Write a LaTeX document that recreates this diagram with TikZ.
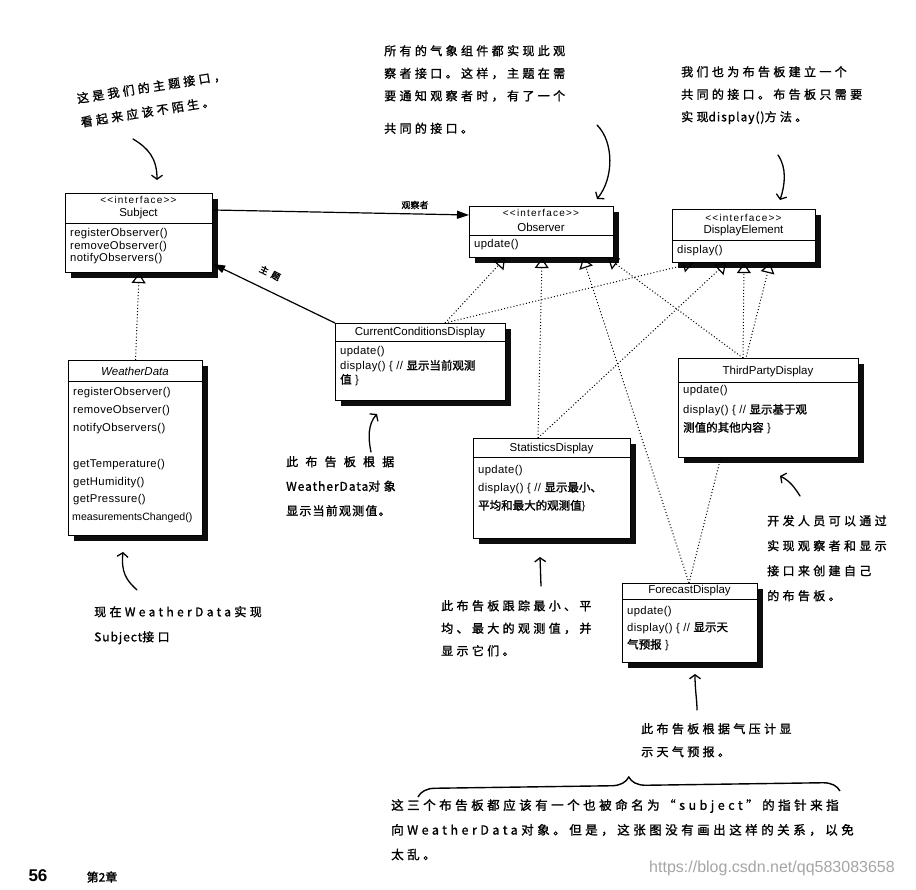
\documentclass[tikz,border=0pt]{standalone}
\usepackage{fontspec}
\setmainfont{Liberation Sans}
\newfontfamily\cjk{Noto Sans CJK SC}
\newfontfamily\cjkb{Noto Sans CJK SC}[FakeBold=1.5]
\newfontfamily\hand{Noto Sans CJK SC}[LetterSpace=28,FakeBold=1.3]
\newfontfamily\handlat{Noto Sans CJK SC}[LetterSpace=8,FakeBold=1.3]
\newfontfamily\mfont{Liberation Sans}[LetterSpace=3]
\newfontfamily\sfont{Liberation Sans}[LetterSpace=12]
\usetikzlibrary{arrows.meta,shadows,backgrounds,calc,decorations.pathreplacing}
\begin{document}
\begin{tikzpicture}[x=1pt,y=-1pt,
  box/.style={draw, line width=1.1pt, fill=white, inner sep=0pt, anchor=north west,
    drop shadow={shadow xshift=5pt, shadow yshift=-5.5pt, fill=black, opacity=0.95}},
  mt/.style={font=\mfont\fontsize{11.3}{12}\selectfont, inner sep=0pt, anchor=west},
  st/.style={font=\sfont\fontsize{10}{11}\selectfont, inner sep=0pt},
  nm/.style={font=\fontsize{11.5}{12}\selectfont, inner sep=0pt},
  sepline/.style={line width=0.9pt},
  real/.style={line width=1pt, dash pattern=on 1pt off 2.2pt,
    -{Triangle[open, length=10pt, width=14pt, line width=1.2pt]}},
  assoc/.style={line width=1.2pt, -{Triangle[length=12pt, width=8pt]}},
  note/.style={font=\hand\fontsize{12}{#1}\selectfont, align=left, anchor=north west, inner sep=0pt},
  handarrow/.style={line width=1.3pt, line cap=round, -{Straight Barb[length=4pt, width=11pt]}},
  lbl/.style={font=\cjkb\fontsize{9}{10}\selectfont, inner sep=0pt}
]
\useasboundingbox (0,0) rectangle (916,890);

% ---------- boxes ----------
\node[box, minimum width=147pt, minimum height=79pt] (subj) at (65,193) {};
\node[box, minimum width=144pt, minimum height=51pt] (obs) at (469,206) {};
\node[box, minimum width=143pt, minimum height=53pt] (de) at (672,209) {};
\node[box, minimum width=170pt, minimum height=77pt] (ccd) at (335,323) {};
\node[box, minimum width=134pt, minimum height=175pt] (wd) at (68,360) {};
\node[box, minimum width=180pt, minimum height=99pt] (tp) at (678,358) {};
\node[box, minimum width=157pt, minimum height=100pt] (sd) at (473,438) {};
\node[box, minimum width=135pt, minimum height=79pt] (fd) at (622,583) {};

% separators
\draw[sepline] ($(subj.north west)+(0,30)$) -- ($(subj.north east)+(0,30)$);
\draw[sepline] ($(obs.north west)+(0,29)$) -- ($(obs.north east)+(0,29)$);
\draw[sepline] ($(de.north west)+(0,31)$) -- ($(de.north east)+(0,31)$);
\draw[sepline] ($(ccd.north west)+(0,18)$) -- ($(ccd.north east)+(0,18)$);
\draw[sepline] ($(wd.north west)+(0,21)$) -- ($(wd.north east)+(0,21)$);
\draw[sepline] ($(tp.north west)+(0,24)$) -- ($(tp.north east)+(0,24)$);
\draw[sepline] ($(sd.north west)+(0,19)$) -- ($(sd.north east)+(0,19)$);
\draw[sepline] ($(fd.north west)+(0,16)$) -- ($(fd.north east)+(0,16)$);

% ---------- box texts ----------
\newcommand\zh[1]{{\cjkb\fontsize{11.5}{12}\selectfont #1}}
\node[st] (subjst) at (138.5,200) {<<interface>>};
\node[nm] (subjnm) at (138.5,214) {Subject};
\node[mt] (subjm1) at (70,234) {registerObserver()};
\node[mt] (subjm2) at (70,246.5) {removeObserver()};
\node[mt] (subjm3) at (70,259) {notifyObservers()};

\node[st] (obsst) at (541,213) {<<interface>>};
\node[nm] (obsnm) at (541,227) {Observer};
\node[mt] (obsm1) at (474,245) {update()};

\node[st] (dest) at (743.5,218) {<<interface>>};
\node[nm] (denm) at (743.5,231) {DisplayElement};
\node[mt] (dem1) at (677,251) {display()};

\node[nm] (ccdnm) at (420,333) {CurrentConditionsDisplay};
\node[mt] (ccdm1) at (340,352) {update()};
\node[mt] (ccdm2) at (340,366) {display() \{ // \zh{显示当前观测}};
\node[mt] (ccdm3) at (340,380) {\zh{值} \}};

\node[nm] (wdnm) at (135,371) {\itshape WeatherData};
\node[mt] (wdm1) at (73,393) {registerObserver()};
\node[mt] (wdm2) at (73,411) {removeObserver()};
\node[mt] (wdm3) at (73,429) {notifyObservers()};
\node[mt] (wdm4) at (73,465) {getTemperature()};
\node[mt] (wdm5) at (73,483) {getHumidity()};
\node[mt] (wdm6) at (73,500) {getPressure()};
\node[mt, font=\fontsize{10.6}{12}\selectfont] (wdm7) at (72,518) {measurementsChanged()};

\node[nm] (tpnm) at (768,372) {ThirdPartyDisplay};
\node[mt] (tpm1) at (683,391) {update()};
\node[mt] (tpm2) at (683,410) {display() \{ // \zh{显示基于观}};
\node[mt] (tpm3) at (683,428) {\zh{测值的其他内容} \}};

\node[nm] (sdnm) at (551.5,449) {StatisticsDisplay};
\node[mt] (sdm1) at (478,471) {update()};
\node[mt] (sdm2) at (478,488) {display() \{ // \zh{显示最小、}};
\node[mt] (sdm3) at (478,506) {\zh{平均和最大的观测值}\}};

\node[nm] (fdnm) at (689.5,591) {ForecastDisplay};
\node[mt] (fdm1) at (627,612) {update()};
\node[mt] (fdm2) at (627,628) {display() \{ // \zh{显示天}};
\node[mt] (fdm3) at (627,645) {\zh{气预报} \}};

% ---------- connectors ----------
\begin{scope}[on background layer]
\fill[white] (0,0) rectangle (916,890);
\draw[real] (wd.north) -- (subj.south);
\draw[real] ($(ccd.north west)+(110,0)$) -- ($(obs.south west)+(36,0)$);
\draw[real] ($(ccd.north west)+(110,0)$) -- ($(de.south west)+(21,0)$);
\draw[real] ($(sd.north west)+(65,0)$) -- ($(obs.south west)+(73,0)$);
\draw[real] ($(sd.north west)+(65,0)$) -- ($(de.south west)+(54,0)$);
\draw[real] ($(fd.north west)+(67,0)$) -- ($(obs.south west)+(114,0)$);
\draw[real] ($(fd.north west)+(67,0)$) -- ($(de.south west)+(98,0)$);
\draw[real] ($(tp.north west)+(65,0)$) -- ($(obs.south west)+(139,0)$);
\draw[real] ($(tp.north west)+(65,0)$) -- ($(de.south west)+(72,0)$);
\end{scope}

\draw[assoc] ($(subj.north east)+(0,17)$) -- ($(obs.north west)+(0,9)$);
\node[lbl] (lblobs) at (415,205) {观察者};
\draw[assoc] (ccd.north west) -- ($(subj.south east)+(0,-9)$);
\node[lbl, rotate=-26] (lblsubj) at (270,273) {主\hspace{4pt}题};

% ---------- notes ----------
\node[note=24, rotate=9] (n1) at (76,93) {这是我们的主题接口，\\看起来应该不陌生。};
\node[note=22.5] (n2) at (384,45) {所有的气象组件都实现此观\\察者接口。这样，主题在需\\要通知观察者时，有了一个\\[10pt]共同的接口。};
\node[note=22.5] (n3) at (681,66) {我们也为布告板建立一个\\共同的接口。布告板只需要\\实现{\handlat display()}方法。};
\node[note=24.5] (n4) at (286,456) {{\addfontfeature{LetterSpace=60}此布告板根据}\\{\handlat WeatherData}对象\\{\addfontfeature{LetterSpace=10}显示当前观测值。}};
\node[note=25] (n5) at (94,606) {现在WeatherData实现\\{\handlat Subject}接口};
\node[note=22.5] (n6) at (441,600) {此布告板跟踪最小、平\\均、最大的观测值，并\\显示它们。};
\node[note=25] (n7) at (767,515) {开发人员可以通过\\实现观察者和显示\\接口来创建自己\\的布告板。};
\node[note=23] (n8) at (641,723) {此布告板根据气压计显\\示天气预报。};
\node[note=24.7, font=\hand\fontsize{12.5}{24.7}\selectfont] (n9) at (391,799) {这三个布告板都应该有一个也被命名为“subject”的指针来指\\向WeatherData对象。但是，这张图没有画出这样的关系，以免\\太乱。};

% ---------- hand arrows ----------
\coordinate (a1s) at (133,139); \coordinate (a1e) at (157,180);
\draw[handarrow] (a1s) .. controls (148,148) and (157,158) .. (a1e);
\coordinate (a2s) at (597,125); \coordinate (a2e) at (597,199);
\draw[handarrow] (a2s) .. controls (614,142) and (614,178) .. (a2e);
\coordinate (a3s) at (778,155); \coordinate (a3e) at (780,200);
\draw[handarrow] (a3s) .. controls (787,168) and (785,185) .. (a3e);
\coordinate (a4s) at (371,452); \coordinate (a4e) at (377,414);
\draw[handarrow] (a4s) .. controls (368,438) and (368,424) .. (a4e);
\coordinate (a5s) at (137,590); \coordinate (a5e) at (123,552);
\draw[handarrow] (a5s) .. controls (126,580) and (121,572) .. (a5e);
\coordinate (a6s) at (541,586); \coordinate (a6e) at (540,557);
\draw[handarrow] (a6s) -- (a6e);
\coordinate (a7s) at (800,496); \coordinate (a7e) at (780,476);
\draw[handarrow] (a7s) .. controls (795,488) and (790,481) .. (a7e);
\coordinate (a8s) at (697,710); \coordinate (a8e) at (695,674);
\draw[handarrow] (a8s) .. controls (697,700) and (695,690) .. (a8e);

% brace
\coordinate (brL) at (418,797); \coordinate (brR) at (840,791);
\draw[decorate, decoration={brace, amplitude=17pt}, line width=1.4pt] (brL) -- (brR);

% ---------- footer ----------
\node[font=\bfseries\fontsize{17}{17}\selectfont, inner sep=0pt] (pg) at (38,876) {56};
\node[font=\cjkb\fontsize{12}{12}\selectfont, inner sep=0pt] (chap) at (102,877) {第2章};
\node[font=\fontsize{16}{16}\selectfont, text=black!35, inner sep=0pt] (wm) at (772,868) {https://blog.csdn.net/qq583083658};
\end{tikzpicture}
\end{document}
